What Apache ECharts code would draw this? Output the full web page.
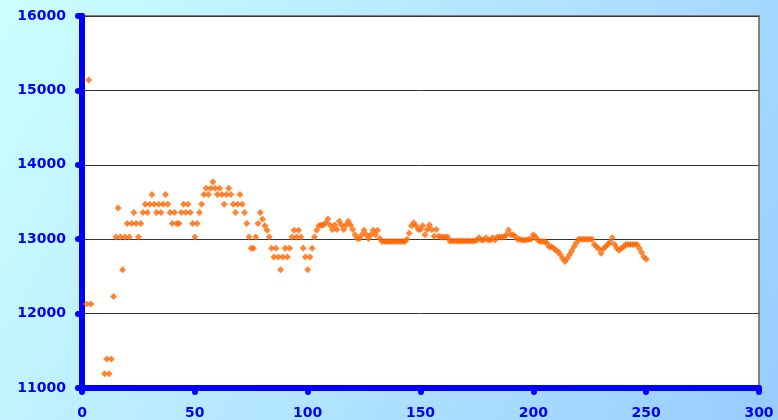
<!DOCTYPE html>
<html>
<head>
<meta charset="utf-8">
<script src="https://cdn.jsdelivr.net/npm/echarts@6/dist/echarts.min.js"></script>
<style>
  html, body { margin: 0; padding: 0; }
  #chart { width: 778px; height: 420px; }
</style>
</head>
<body>
<div id="chart"></div>
<script>
// first few readings (x, value) before the daily run starts
let earlyDays = [2, 3, 4];
let earlyValues = [12130, 15140, 12130];

// daily readings, day 10 .. 250
let firstDay = 10;
let values = [
  11190, 11390, 11190, 11390, 12230, 13030, 13420, 13030, 12590, 13030,
  13210, 13030, 13210, 13360, 13210, 13030, 13210, 13360, 13470, 13360,
  13470, 13600, 13470, 13360, 13470, 13360, 13470, 13600, 13470, 13360,
  13210, 13360, 13210, 13210, 13360, 13470, 13360, 13470, 13360, 13210,
  13030, 13210, 13360, 13470, 13600, 13685, 13600, 13685, 13770, 13685,
  13600, 13685, 13600, 13470, 13600, 13685, 13600, 13470, 13360, 13470,
  13600, 13470, 13360, 13210, 13030, 12880, 12880, 13030, 13210, 13360,
  13270, 13180, 13120, 13030, 12880, 12760, 12880, 12760, 12590, 12760,
  12880, 12760, 12880, 13030, 13120, 13030, 13120, 13030, 12880, 12760,
  12590, 12760, 12880, 13030, 13120, 13180, 13190, 13190, 13220, 13270,
  13190, 13130, 13190, 13130, 13240, 13190, 13130, 13190, 13240, 13190,
  13130, 13060, 13010, 13010, 13060, 13120, 13060, 13010, 13060, 13120,
  13060, 13120, 13010, 12970, 12970, 12970, 12970, 12970, 12970, 12970,
  12970, 12970, 12970, 12970, 13000, 13080, 13180, 13220, 13180, 13130,
  13130, 13180, 13060, 13130, 13190, 13130, 13040, 13130, 13040, 13030,
  13030, 13030, 13030, 12975, 12975, 12975, 12975, 12975, 12975, 12975,
  12975, 12975, 12975, 12975, 12975, 12990, 13020, 12990, 12990, 13020,
  12990, 12990, 13020, 12990, 13030, 13030, 13030, 13030, 13060, 13125,
  13060, 13060, 13040, 13000, 13000, 12990, 12990, 12990, 13000, 13000,
  13060, 13030, 12990, 12970, 12970, 12970, 12950, 12900, 12900, 12880,
  12850, 12830, 12790, 12740, 12700, 12740, 12790, 12840, 12900, 12950,
  13000, 13000, 13000, 13000, 13000, 13000, 13000, 12930, 12900, 12870,
  12810, 12870, 12900, 12930, 12960, 13020, 12930, 12880, 12850, 12880,
  12900, 12930, 12930, 12930, 12930, 12930, 12930, 12880, 12820, 12760,
  12730
];

let xTicks = [0, 50, 100, 150, 200, 250, 300];
let yTicks = [11000, 12000, 13000, 14000, 15000, 16000];

let points = [];
earlyDays.forEach((d, i) => {
  points.push([d, earlyValues[i]]);
});
values.forEach((v, i) => {
  points.push([firstDay + i, v]);
});

let blue = "#0000FF";
let labelStyle = {
  color: blue,
  fontWeight: "bold",
  fontFamily: "DejaVu Sans",
  fontSize: 14,
  formatter: val => String(val)
};

let myChart = echarts.init(document.getElementById("chart"));
myChart.setOption({
  animation: false,
  backgroundColor: new echarts.graphic.LinearGradient(0, 0, 1, 1, [
    { offset: 0, color: "#CCFFFF" },
    { offset: 1, color: "#99CCFF" }
  ]),
  grid: {
    left: 82,
    right: 19,
    top: 16,
    bottom: 32,
    show: true,
    backgroundColor: "#FFFFFF",
    borderColor: "#808080",
    borderWidth: 2
  },
  xAxis: {
    type: "value",
    min: xTicks[0],
    max: xTicks[xTicks.length - 1],
    interval: 50,
    axisLine: { lineStyle: { color: blue, width: 6 } },
    axisTick: { length: 4, lineStyle: { color: blue, width: 6, cap: "round" } },
    axisLabel: Object.assign({ margin: 18 }, labelStyle),
    splitLine: { show: false }
  },
  yAxis: {
    type: "value",
    min: yTicks[0],
    max: yTicks[yTicks.length - 1],
    interval: 1000,
    axisLine: { show: true, lineStyle: { color: blue, width: 6 } },
    axisTick: { show: true, length: 4, lineStyle: { color: blue, width: 6, cap: "round" } },
    axisLabel: Object.assign({ margin: 16 }, labelStyle),
    splitLine: { show: true, lineStyle: { color: "#333333", width: 1 } }
  },
  series: [
    {
      type: "scatter",
      data: points,
      symbol: "diamond",
      symbolSize: 7,
      itemStyle: { color: "#FF6600" }
    }
  ]
});
</script>
</body>
</html>
